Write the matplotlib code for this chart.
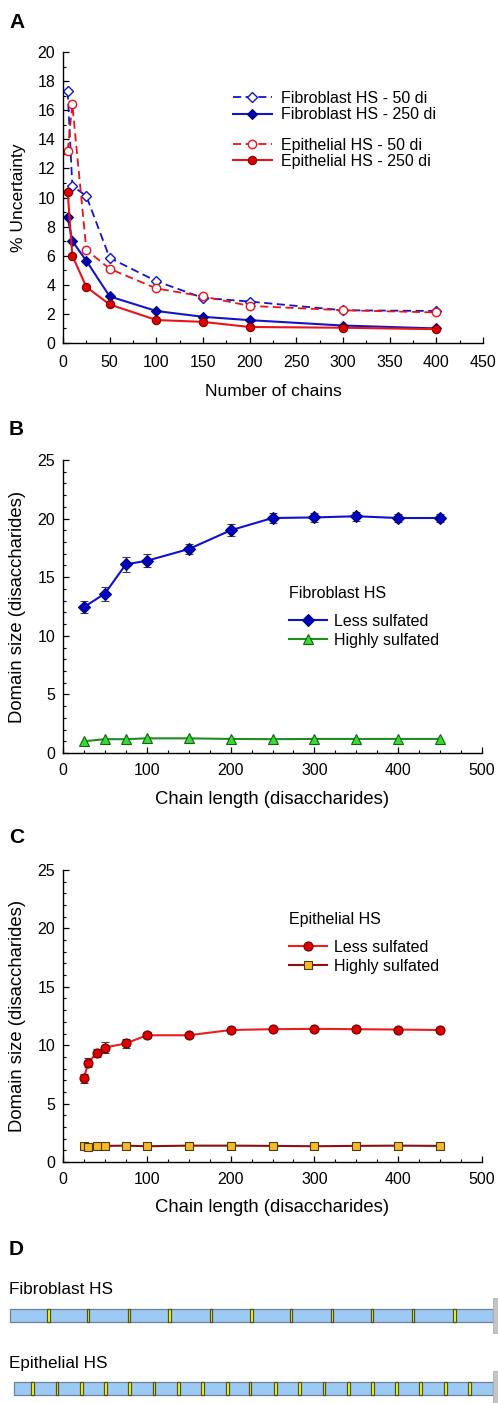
import matplotlib
matplotlib.use('Agg')
import matplotlib.pyplot as plt
from matplotlib.ticker import MultipleLocator
from matplotlib.patches import Rectangle

plt.rcParams['font.family'] = ['Liberation Sans', 'DejaVu Sans']

# ---------------- data ----------------
n_chains = [5, 10, 25, 50, 100, 150, 200, 300, 400]
fib_50 = [17.3, 10.8, 10.1, 5.85, 4.25, 3.1, 2.85, 2.25, 2.2]
fib_250 = [8.65, 7.0, 5.65, 3.2, 2.2, 1.8, 1.57, 1.2, 1.0]
epi_50 = [13.2, 16.4, 6.4, 5.1, 3.75, 3.2, 2.55, 2.25, 2.1]
epi_250 = [10.4, 6.0, 3.85, 2.65, 1.58, 1.45, 1.1, 1.05, 0.95]

fib_len = [25, 50, 75, 100, 150, 200, 250, 300, 350, 400, 450]
fib_less = [12.45, 13.6, 16.1, 16.4, 17.4, 19.0, 20.05, 20.1, 20.2, 20.05, 20.05]
fib_less_err = [0.5, 0.6, 0.65, 0.55, 0.45, 0.5, 0.4, 0.4, 0.4, 0.35, 0.3]
fib_high = [1.0, 1.18, 1.18, 1.25, 1.25, 1.2, 1.18, 1.2, 1.2, 1.2, 1.2]

epi_len = [25, 30, 40, 50, 75, 100, 150, 200, 250, 300, 350, 400, 450]
epi_less = [7.15, 8.5, 9.3, 9.8, 10.15, 10.85, 10.85, 11.3, 11.37, 11.4, 11.37, 11.34, 11.3]
epi_less_err = [0.35, 0.4, 0.35, 0.5, 0.35, 0.25, 0.2, 0.2, 0.15, 0.15, 0.15, 0.15, 0.15]
epi_high = [1.4, 1.3, 1.35, 1.38, 1.4, 1.35, 1.4, 1.4, 1.38, 1.35, 1.38, 1.4, 1.38]

chain_names = ['Fibroblast HS', 'Epithelial HS']
chain_start = [0, 2]
chain_end = [250, 250]
fib_domains = [20, 40.5, 61.5, 82.5, 104, 125, 145.5, 166.5, 187.5, 208.5, 230]
epi_domains = [11.5, 24.4, 37.1, 49.4, 62, 74.5, 87.2, 99.7, 112.4, 124.2, 137.4,
               150, 162.5, 175.2, 187.7, 200, 212.6, 225.3, 237.8]
hs_width = [1.2, 1.4]

# ---------------- layout ----------------
W, H = 498, 1403
fig = plt.figure(figsize=(W / 100, H / 100), dpi=100)


def rect(l, t, r, b):
    return [l / W, 1 - b / H, (r - l) / W, (b - t) / H]


FS = 11.5
LFS_A = 12.5
LFS_BC = 13.3
BLUE = '#1414c8'
NAVY = '#00007a'
RED = '#e8141a'
DKRED = '#7a0000'


def style(ax, xpad=7):
    for s in ['top', 'right']:
        ax.spines[s].set_visible(False)
    for s in ['left', 'bottom']:
        ax.spines[s].set_linewidth(1.0)
    ax.tick_params(which='both', direction='in', labelsize=FS)
    ax.tick_params(which='major', length=4, width=0.9)
    ax.tick_params(which='minor', length=2.5, width=0.8)
    ax.tick_params(axis='x', pad=xpad)
    ax.tick_params(axis='y', pad=5.5)


# ---------------- panel A ----------------
axA = fig.add_axes(rect(63, 52, 483, 343))
style(axA, xpad=8.5)
dash = (0, (4.5, 2.5))
lA1, = axA.plot(n_chains, fib_50, color=BLUE, lw=1.3, ls=dash, marker='D', ms=5,
                mfc='white', mec=BLUE, mew=1.0)
lA2, = axA.plot(n_chains, fib_250, color=BLUE, lw=1.5, marker='D', ms=5,
                mfc='#0000b0', mec=NAVY, mew=0.8)
lA3, = axA.plot(n_chains, epi_50, color=RED, lw=1.3, ls=dash, marker='o', ms=6,
                mfc='white', mec=RED, mew=1.0)
lA4, = axA.plot(n_chains, epi_250, color=RED, lw=1.5, marker='o', ms=6,
                mfc='#e00000', mec=DKRED, mew=0.8)
axA.set_xlim(0, 450)
axA.set_ylim(0, 20)
axA.xaxis.set_major_locator(MultipleLocator(50))
axA.xaxis.set_minor_locator(MultipleLocator(25))
axA.yaxis.set_major_locator(MultipleLocator(2))
axA.yaxis.set_minor_locator(MultipleLocator(1))
axA.set_xlabel('Number of chains', fontsize=LFS_A)
axA.set_ylabel('% Uncertainty', fontsize=LFS_A)
axA.xaxis.set_label_coords(0.5, -(384 - 343) / 291)
axA.yaxis.set_label_coords((26 - 63) / 420, 0.5)

legA1 = axA.legend([lA1, lA2], ['Fibroblast HS - 50 di', 'Fibroblast HS - 250 di'],
                   loc='center left', frameon=False, fontsize=FS,
                   bbox_to_anchor=(233 / W, 1 - 106.5 / H), bbox_transform=fig.transFigure,
                   borderpad=0, borderaxespad=0, handlelength=2.42, handletextpad=0.56,
                   labelspacing=0.1)
axA.add_artist(legA1)
axA.legend([lA3, lA4], ['Epithelial HS - 50 di', 'Epithelial HS - 250 di'],
           loc='center left', frameon=False, fontsize=FS,
           bbox_to_anchor=(233 / W, 1 - 153.5 / H), bbox_transform=fig.transFigure,
           borderpad=0, borderaxespad=0, handlelength=2.42, handletextpad=0.56,
           labelspacing=0.06)

# ---------------- panel B ----------------
axB = fig.add_axes(rect(63, 460, 482, 753))
style(axB)
ebB = axB.errorbar(fib_len, fib_less, yerr=fib_less_err, color='#1010d0', lw=1.5, marker='D',
                   ms=6, mfc='#0000c0', mec=NAVY, mew=0.8, ecolor='#404040', elinewidth=0.9,
                   capsize=3, capthick=0.9)
lnB, = axB.plot(fib_len, fib_high, color='#1e8c1e', lw=1.5, marker='^', ms=6.5,
                mfc='#33dd33', mec='#136013', mew=0.8)
axB.set_xlim(0, 500)
axB.set_ylim(0, 25)
axB.xaxis.set_major_locator(MultipleLocator(100))
axB.xaxis.set_minor_locator(MultipleLocator(25))
axB.yaxis.set_major_locator(MultipleLocator(5))
axB.yaxis.set_minor_locator(MultipleLocator(1))
axB.set_xlabel('Chain length (disaccharides)', fontsize=LFS_BC)
axB.set_ylabel('Domain size (disaccharides)', fontsize=LFS_BC)
axB.xaxis.set_label_coords(0.5, -(791 - 753) / 293)
axB.yaxis.set_label_coords((26 - 63) / 419, 0.5)
legB = axB.legend([ebB.lines[0], lnB], ['Less sulfated', 'Highly sulfated'],
                  title='Fibroblast HS', title_fontsize=FS, alignment='left',
                  loc='upper left', frameon=False, fontsize=FS,
                  bbox_to_anchor=(289 / W, 1 - 586 / H), bbox_transform=fig.transFigure,
                  borderpad=0, borderaxespad=0, handlelength=2.35, handletextpad=0.45,
                  labelspacing=0.24)
legB._legend_box.sep = FS * 0.24 + 6.5

# ---------------- panel C ----------------
axC = fig.add_axes(rect(63, 870, 482, 1162))
style(axC)
ebC = axC.errorbar(epi_len, epi_less, yerr=epi_less_err, color='#ee1c1c', lw=1.5, marker='o',
                   ms=6.5, mfc='#e00000', mec='#600000', mew=0.8, ecolor='#404040',
                   elinewidth=0.9, capsize=3, capthick=0.9)
lnC, = axC.plot(epi_len, epi_high, color='#8b1010', lw=1.5, marker='s', ms=5.5,
                mfc='#f7b928', mec='#4a3a10', mew=0.8)
axC.set_xlim(0, 500)
axC.set_ylim(0, 25)
axC.xaxis.set_major_locator(MultipleLocator(100))
axC.xaxis.set_minor_locator(MultipleLocator(25))
axC.yaxis.set_major_locator(MultipleLocator(5))
axC.yaxis.set_minor_locator(MultipleLocator(1))
axC.set_xlabel('Chain length (disaccharides)', fontsize=LFS_BC)
axC.set_ylabel('Domain size (disaccharides)', fontsize=LFS_BC)
axC.xaxis.set_label_coords(0.5, -(1199 - 1162) / 292)
axC.yaxis.set_label_coords((26 - 63) / 419, 0.5)
legC = axC.legend([ebC.lines[0], lnC], ['Less sulfated', 'Highly sulfated'],
                  title='Epithelial HS', title_fontsize=FS, alignment='left',
                  loc='upper left', frameon=False, fontsize=FS,
                  bbox_to_anchor=(289 / W, 1 - 912 / H), bbox_transform=fig.transFigure,
                  borderpad=0, borderaxespad=0, handlelength=2.35, handletextpad=0.45,
                  labelspacing=0.24)
legC._legend_box.sep = FS * 0.24 + 6.5

# ---------------- panel D ----------------
scale = (493 - 10) / 250.0
axD = fig.add_axes([0, 0, 1, (H - 1250) / H])
axD.set_xlim(-10 / scale, (W - 10) / scale)
axD.set_ylim(1 + (1403 - 1388.5) / 73, -(1315.5 - 1250) / 73)
axD.axis('off')
bar_h = 13 / 73
for row, (start, end, doms, hw) in enumerate(zip(chain_start, chain_end,
                                                  [fib_domains, epi_domains], hs_width)):
    axD.add_patch(Rectangle((start, row - bar_h / 2), end - start, bar_h,
                            facecolor='#9ccaf5', edgecolor='#6f8299', lw=0.9, zorder=2))
    for d in doms:
        axD.add_patch(Rectangle((d - hw / 2, row - bar_h / 2), hw, bar_h,
                                facecolor='#ffff10', edgecolor='#50502a', lw=0.9, zorder=3))
    axD.add_patch(Rectangle((end, row - 0.245), 10, 0.49,
                            facecolor='#c4c4c4', edgecolor='#b0b0b0', lw=0.6, zorder=2))

fig.text(9 / W, 1 - 1294 / H, chain_names[0], fontsize=12.3, va='baseline', ha='left')
fig.text(9 / W, 1 - 1368 / H, chain_names[1], fontsize=12.3, va='baseline', ha='left')

# ---------------- panel letters ----------------
for letter, yb in zip('ABCD', [28, 435, 843, 1255]):
    fig.text(9 / W, 1 - yb / H, letter, fontsize=15, fontweight='bold', va='baseline', ha='left')

fig.savefig('out.png', dpi=100)
